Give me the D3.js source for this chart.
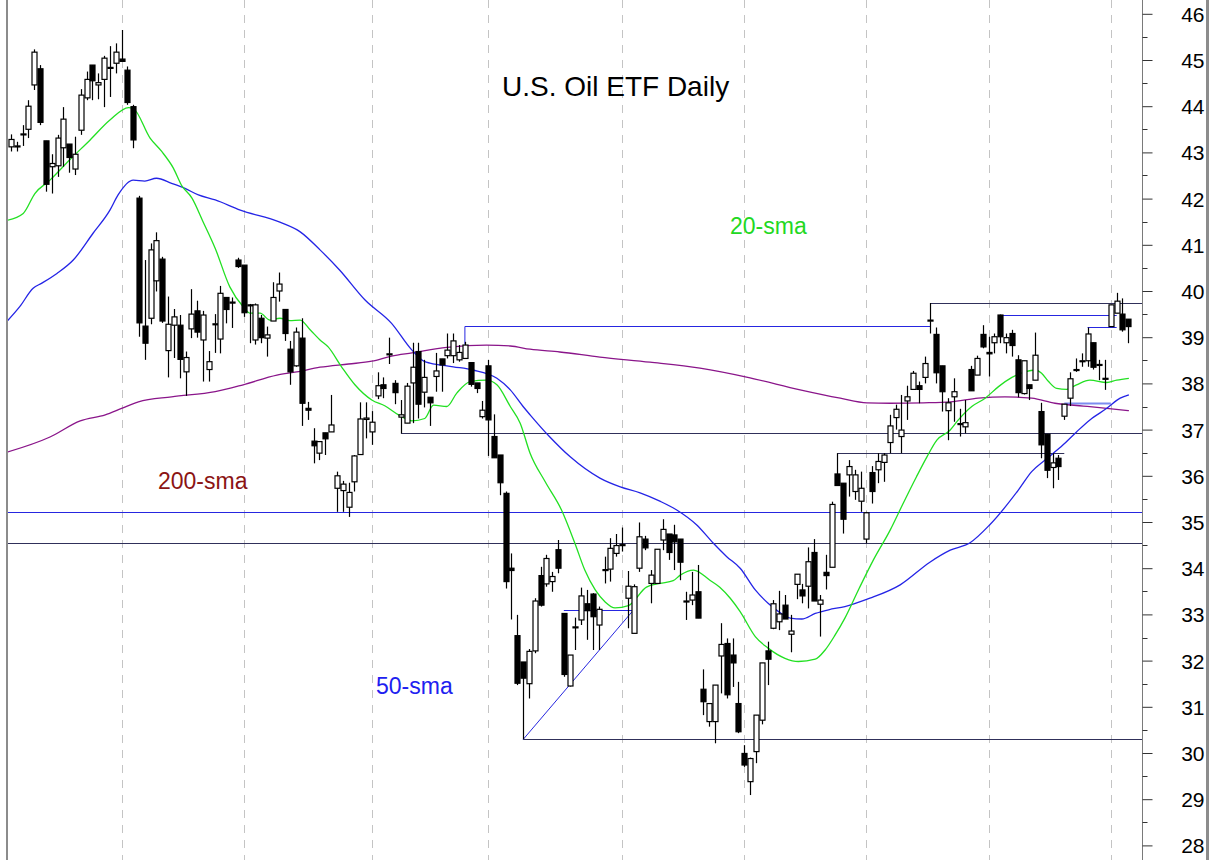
<!DOCTYPE html>
<html>
<head>
<meta charset="utf-8">
<script src="https://cdn.jsdelivr.net/npm/d3@7"></script>
<style>
body { margin: 0; background: #fff; }
svg { display: block; font-family: "Liberation Sans", Arial, sans-serif; }
</style>
</head>
<body>
<div class="chart"></div>
<script>
// daily bars, bar 0 is the first one on the left
var opens = [43.12,43.12,43.38,43.50,44.46,44.81,43.25,42.69,42.71,43.10,43.18,42.64,43.48,44.18,44.89,44.46,44.58,44.82,44.93,45.02,
  44.78,43.99,42.01,39.24,39.41,40.22,40.69,38.71,39.26,39.26,38.25,39.18,39.57,38.94,38.30,39.27,38.96,39.86,39.76,40.67,
  40.56,39.70,38.94,39.41,38.98,39.35,40.00,39.60,38.74,38.38,38.98,37.46,36.75,36.49,36.93,36.95,35.73,35.68,35.32,35.87,
  36.46,37.22,36.95,37.73,37.97,38.62,38.00,37.27,37.14,38.01,38.69,37.81,37.70,38.15,38.53,38.60,38.60,38.51,38.54,38.45,
  38.01,37.28,38.38,36.85,36.45,35.62,34.00,32.54,31.97,31.50,32.21,33.84,33.66,33.71,34.40,33.02,31.45,32.71,32.88,33.23,
  33.44,32.77,33.95,33.98,34.32,34.49,33.35,32.59,34.00,34.63,33.67,33.67,34.61,34.74,34.72,34.63,33.27,33.31,33.49,31.38,
  30.68,30.68,32.10,32.37,32.12,31.07,29.99,29.38,30.03,30.71,32.21,32.70,32.84,33.20,32.57,33.65,33.53,33.61,34.34,33.22,
  33.91,34.02,36.04,35.84,36.02,35.66,35.45,34.63,36.07,36.13,36.29,36.72,37.26,36.85,37.62,37.87,37.95,38.13,39.35,39.06,
  38.38,37.41,37.71,37.11,37.06,38.30,38.18,39.06,38.67,38.88,39.48,38.88,39.08,38.51,37.78,37.97,38.07,37.39,36.90,36.18,
  36.38,37.29,37.68,38.28,38.47,38.49,38.88,38.40,38.10,39.23,39.52,39.50,39.39];
var highs = [43.39,43.23,43.59,44.13,45.23,44.89,43.25,42.96,43.38,43.98,43.18,43.34,44.37,44.75,44.89,44.71,45.09,45.30,45.36,45.65,
  44.86,44.03,42.06,40.67,41.03,41.27,40.74,39.88,39.61,39.48,38.69,40.04,39.79,39.57,38.70,39.50,40.11,39.86,39.86,40.72,
  40.56,39.72,39.73,39.48,39.23,40.19,40.40,39.60,38.92,39.21,39.41,37.60,37.03,36.74,36.93,37.75,36.09,35.89,35.85,36.45,
  37.59,37.59,37.40,38.24,38.13,38.99,38.07,37.64,38.01,38.88,38.88,38.51,37.70,38.66,38.53,39.08,39.08,38.83,38.90,38.45,
  38.01,37.62,38.51,37.33,36.45,35.66,34.32,32.99,31.97,32.25,33.35,34.03,34.29,33.92,34.61,33.02,32.12,32.93,33.58,33.53,
  33.46,33.17,34.25,34.65,34.74,34.88,33.94,33.65,34.99,34.70,33.96,34.41,35.06,34.74,34.94,34.63,33.49,33.92,34.07,31.81,
  31.07,31.47,32.81,32.48,32.48,31.54,30.17,29.90,30.82,31.95,32.41,33.31,33.51,33.42,32.99,33.87,33.66,34.45,34.63,33.42,
  34.29,35.44,36.49,35.84,36.34,36.13,36.09,35.22,36.21,36.49,36.49,37.32,37.54,37.75,37.95,38.27,38.04,38.58,39.74,39.21,
  38.38,37.68,38.11,37.45,37.64,38.38,38.60,39.26,39.01,39.08,39.49,39.08,39.16,38.61,38.49,37.97,39.10,37.58,36.90,36.49,
  36.45,37.55,38.24,38.54,38.65,39.21,38.88,38.51,38.51,39.70,39.96,39.84,39.39];
var lows = [43.02,43.02,43.14,43.31,44.35,43.59,42.15,42.11,42.47,42.69,42.56,42.51,43.38,44.13,44.13,44.15,43.98,44.20,44.71,44.97,
  44.03,43.09,39.01,38.51,39.28,39.99,39.31,38.13,38.55,38.11,37.73,38.98,38.99,38.04,38.04,38.66,38.65,39.30,39.20,40.50,
  39.44,38.87,38.84,38.87,38.58,39.35,39.77,38.92,37.97,38.36,37.08,37.21,36.27,36.34,36.45,36.95,35.22,35.22,35.11,35.66,
  36.46,36.81,36.67,37.66,37.68,38.42,37.55,36.92,37.14,37.14,37.24,37.48,37.08,37.82,37.82,38.54,38.44,38.47,38.54,37.93,
  37.79,37.24,36.43,36.39,35.58,33.56,32.89,31.47,30.30,31.18,32.16,33.17,33.60,33.49,33.89,31.65,31.44,32.23,32.77,32.45,
  32.23,32.23,33.67,33.71,34.25,34.36,32.70,32.59,33.92,34.39,33.24,33.67,34.39,34.18,33.96,33.74,32.88,33.20,32.92,30.82,
  30.57,30.21,31.29,31.18,31.43,30.43,29.70,29.09,29.78,30.62,31.47,32.68,32.66,32.90,32.18,33.33,33.24,33.13,33.29,32.52,
  33.54,34.02,35.79,34.75,35.55,35.48,35.22,34.54,35.40,35.84,35.87,36.49,37.00,36.49,37.21,37.86,37.57,38.00,39.08,38.00,
  37.39,36.77,37.17,36.85,36.92,37.84,38.18,38.76,38.15,38.65,38.87,38.65,38.58,37.70,37.76,37.64,38.07,36.38,35.95,35.73,
  35.91,37.21,37.51,38.25,38.36,38.36,38.30,38.07,37.86,39.23,39.52,39.12,38.87];
var closes = [43.28,43.14,43.40,44.00,45.17,43.65,42.31,42.76,43.31,43.72,42.89,42.96,44.24,44.58,44.55,44.51,45.04,44.84,45.17,44.97,
  44.08,43.27,39.31,38.87,40.89,41.09,39.35,39.28,39.44,38.52,38.56,39.50,39.11,39.48,38.47,39.29,39.95,39.60,39.74,40.53,
  39.53,39.68,39.70,38.99,39.05,39.86,40.15,39.08,38.25,39.11,37.57,37.42,36.65,36.74,36.80,37.10,36.00,35.82,35.64,36.43,
  37.23,37.25,37.16,37.95,37.89,38.64,37.80,37.32,37.94,38.35,37.55,38.13,37.58,38.27,38.40,38.72,38.92,38.67,38.83,37.98,
  37.89,37.42,37.21,36.39,35.85,33.71,33.95,31.51,31.62,32.20,33.29,33.20,34.21,33.82,34.00,31.70,32.12,32.73,33.40,33.08,
  32.95,33.11,33.97,34.43,34.49,34.51,33.61,33.60,34.68,34.44,33.85,34.41,34.84,34.34,34.57,34.13,33.29,33.42,32.92,31.11,
  31.07,31.47,32.35,31.26,31.95,30.46,29.74,29.88,30.82,31.95,32.03,33.23,33.01,32.90,32.64,33.87,33.40,34.14,33.29,33.31,
  33.84,35.38,35.79,35.06,36.20,36.02,35.73,35.20,35.66,36.31,36.45,37.08,37.44,36.99,37.71,38.22,37.87,38.43,39.37,38.23,
  37.82,37.58,37.82,37.13,37.15,37.84,38.54,38.79,38.64,39.01,39.01,38.99,38.82,37.80,38.49,37.89,38.61,36.67,36.12,36.28,
  36.20,37.55,38.10,38.30,38.49,39.07,38.35,38.41,38.11,39.70,39.78,39.16,39.23];

// first bar of each month (dashed grid)
var monthStarts = [19, 40, 62, 82, 105, 126, 147, 168, 189];
var priceTicks = d3.range(28, 47);
var halfTicks = d3.range(28.5, 46, 1);

// moving averages: [bar, price]
var sma20 = [[-1,41.52],[2.1,41.68],[4.1,42.11],[6.7,42.40],[10.1,42.84],[13.6,43.27],[17,43.70],[20.2,43.97],[21,43.95],[23.9,43.31],
  [25.9,43.02],[27.9,42.66],[29.3,42.29],[31.1,42.01],[33,41.50],[35.1,40.92],[37.6,40.09],[39.9,39.66],[41.1,39.52],[42.8,39.52],
  [44.5,39.37],[46.2,39.41],[47.9,39.36],[49.7,39.37],[51.4,39.16],[53.1,38.94],[54.5,38.79],[56.8,38.36],[59.1,37.97],[62,37.64],
  [64.3,37.51],[66.6,37.32],[68.9,37.19],[71.1,37.24],[72.6,37.53],[74.9,37.50],[76.6,37.79],[78.9,38.04],[81.7,38.07],[83.5,37.97],
  [85.8,37.50],[87.5,37.14],[89.2,36.49],[91.8,35.87],[94.6,35.26],[96.9,34.54],[98.6,33.96],[100.4,33.53],[102.1,33.27],[103.8,33.14],
  [106.1,33.19],[109.2,33.59],[111.5,33.67],[113.8,33.73],[115,33.85],[117.3,33.96],[120.1,33.74],[121.8,33.59],[123.6,33.35],[125.3,33.06],
  [127.9,32.52],[130.1,32.27],[133,32.05],[135.3,31.98],[138.2,32.03],[139.9,32.23],[141.6,32.55],[143.3,32.92],[145.7,33.55],[148.2,34.18],
  [151.1,34.83],[153.3,35.40],[155.6,35.98],[157.4,36.41],[159.1,36.77],[161.4,36.99],[162.8,37.21],[165.1,37.50],[167.4,37.68],[169.7,37.93],
  [172,38.13],[174.3,38.25],[176,38.29],[177.1,38.22],[178.3,38.04],[179.7,37.89],[181.4,37.87],[183.1,37.97],[185.4,38.07],[188.3,38.02],
  [190,38.07],[192.1,38.11]];
var sma50 = [[-1,39.30],[1.5,39.66],[3.8,40.06],[5.3,40.17],[7.9,40.38],[10.7,40.67],[14.1,41.25],[17,41.75],[18.4,42.08],[21,42.40],
  [23,42.38],[25,42.44],[27.6,42.33],[29.9,42.22],[32.2,42.08],[35.1,41.97],[39.4,41.75],[46.2,41.49],[49.7,41.28],[53.1,40.89],
  [56.5,40.45],[60.8,39.81],[65.4,39.30],[68.9,38.72],[71.1,38.47],[72,38.44],[76,38.36],[79.4,38.29],[83.5,38.11],[85.8,37.86],
  [88,37.50],[89.2,37.32],[92.6,36.84],[96.1,36.41],[101.2,35.95],[104.7,35.76],[108.1,35.63],[111.5,35.45],[114.4,35.26],[117.8,34.94],
  [120.7,34.54],[123,34.25],[125.3,34.00],[127.9,33.53],[130.1,33.24],[131.9,33.06],[133.9,32.92],[135.9,32.90],[138.2,33.02],[140.5,33.10],
  [143.3,33.17],[147.6,33.35],[152.8,33.64],[157.9,34.13],[161.4,34.39],[164.8,34.55],[168.2,34.94],[173.1,35.69],[175.4,36.09],[177.7,36.34],
  [180.8,36.67],[183.1,36.95],[185.4,37.21],[188.3,37.46],[190.6,37.68],[192.1,37.75]];
var sma200 = [[-1,36.50],[6.7,36.84],[11.9,37.19],[16.2,37.32],[19,37.46],[21.9,37.60],[27.6,37.71],[35.1,37.82],[39.9,37.97],[45.7,38.18],
  [49.1,38.25],[53.1,38.35],[58,38.42],[62,38.48],[65.4,38.59],[68.9,38.66],[74.9,38.78],[81.7,38.83],[85.8,38.81],[89.2,38.74],
  [94.3,38.68],[101.2,38.57],[109.8,38.46],[118.4,38.33],[127,38.12],[135.6,37.86],[142.5,37.68],[147.1,37.58],[151.1,37.57],[156.8,37.58],
  [161.4,37.60],[166.2,37.68],[170.8,37.71],[175.4,37.68],[179.4,37.57],[184.3,37.51],[188.3,37.46],[192.1,37.41]];

// hand drawn levels: [bar, price] points, null bar = chart edge
var blueLevels = [
  [[null,35.22],[null,35.22]],
  [[78,38.85],[78,39.25],[158,39.25]],
  [[170,39.48],[190,39.48]],
  [[185,39.21],[190,39.21]],
  [[88,30.30],[107.2,33.14]],
  [[95,33.09],[107.2,33.09]]
];
var darkLevels = [
  [[null,34.55],[null,34.55]],
  [[158,39.74],[null,39.74]],
  [[67,36.92],[null,36.92]],
  [[142,36.49],[181,36.49]],
  [[88,30.30],[null,30.30]]
];
var paleLevels = [
  [[181,37.58],[189,37.58]]
];

var width = 1209, height = 860;
var left = 7, axisX = 1142;

var x = d3.scaleLinear().domain([0, opens.length - 1]).range([11, 1128.3]);
var y = d3.scaleLinear().domain([28, 46]).range([845.4, 13.8]);

var svg = d3.select(".chart").append("svg")
    .attr("width", width)
    .attr("height", height);

svg.append("rect").attr("width", width).attr("height", height).attr("fill", "#fff");

svg.append("clipPath").attr("id", "plot")
    .append("rect").attr("x", left + 1).attr("y", 0)
    .attr("width", axisX - left - 1).attr("height", height);

// month grid
svg.selectAll(".grid")
    .data(monthStarts)
    .enter().append("line")
    .attr("class", "grid")
    .attr("x1", function (d) { return Math.round(x(d)) + 0.5; })
    .attr("x2", function (d) { return Math.round(x(d)) + 0.5; })
    .attr("y1", 0)
    .attr("y2", height)
    .attr("stroke", "#c4c4c4")
    .attr("stroke-dasharray", "8,7");

var plot = svg.append("g").attr("clip-path", "url(#plot)");

function levelPath(pts) {
    return d3.line()
        .x(function (d, i) {
            if (d[0] === null) return i === 0 ? left : axisX;
            return x(d[0]);
        })
        .y(function (d) { return Math.round(y(d[1])) + 0.5; })(pts);
}

function drawLevels(list, color, w) {
    plot.selectAll(null)
        .data(list)
        .enter().append("path")
        .attr("d", levelPath)
        .attr("fill", "none")
        .attr("stroke", color)
        .attr("stroke-width", w);
}

drawLevels(darkLevels, "#30305a", 1);
drawLevels(blueLevels, "#2626e0", 1);
drawLevels(paleLevels, "#7c8cf0", 2);

var maLine = d3.line()
    .x(function (d) { return x(d[0]); })
    .y(function (d) { return y(d[1]); })
    .curve(d3.curveMonotoneX);

plot.append("path").attr("d", maLine(sma200))
    .attr("fill", "none").attr("stroke", "#8a158a").attr("stroke-width", 1.3);
plot.append("path").attr("d", maLine(sma50))
    .attr("fill", "none").attr("stroke", "#2424e6").attr("stroke-width", 1.3);
plot.append("path").attr("d", maLine(sma20))
    .attr("fill", "none").attr("stroke", "#22e022").attr("stroke-width", 1.3);

// candles
var bars = d3.range(opens.length).map(function (i) {
    return { i: i, o: opens[i], h: highs[i], l: lows[i], c: closes[i] };
});

var candle = plot.selectAll(".bar")
    .data(bars)
    .enter().append("g")
    .attr("class", "bar");

candle.append("line")
    .attr("x1", function (d) { return Math.round(x(d.i)) + 0.5; })
    .attr("x2", function (d) { return Math.round(x(d.i)) + 0.5; })
    .attr("y1", function (d) { return y(d.h); })
    .attr("y2", function (d) { return y(d.l); })
    .attr("stroke", "#000")
    .attr("stroke-width", 1.2);

candle.append("rect")
    .attr("x", function (d) { return Math.round(x(d.i)) - 2; })
    .attr("width", 5)
    .attr("y", function (d) { return y(Math.max(d.o, d.c)); })
    .attr("height", function (d) { return Math.max(1, Math.abs(y(d.o) - y(d.c))); })
    .attr("fill", function (d) { return d.c < d.o ? "#000" : "#fff"; })
    .attr("stroke", "#000")
    .attr("stroke-width", 1.2);

// frame
svg.append("line").attr("x1", left).attr("x2", left).attr("y1", 0).attr("y2", height)
    .attr("stroke", "#8c8c8c").attr("stroke-width", 2);
svg.append("line").attr("x1", 1207.5).attr("x2", 1207.5).attr("y1", 0).attr("y2", height)
    .attr("stroke", "#8c8c8c").attr("stroke-width", 3);

// price axis on the right
svg.append("line").attr("x1", axisX + 0.5).attr("x2", axisX + 0.5).attr("y1", 0).attr("y2", height)
    .attr("stroke", "#7a7a7a");

var axis = svg.append("g")
    .attr("transform", "translate(" + (axisX + 0.5) + ",0)")
    .call(d3.axisRight(y).tickValues(priceTicks).tickSize(10).tickSizeOuter(0).tickPadding(0));
axis.select(".domain").remove();
axis.selectAll(".tick line").attr("stroke", "#333");
axis.selectAll(".tick text")
    .attr("x", 62)
    .attr("dy", "0.36em")
    .attr("text-anchor", "end")
    .attr("font-size", "21px")
    .style("font-family", "Liberation Sans, Arial, sans-serif")
    .attr("fill", "#000");

svg.append("g")
    .attr("transform", "translate(" + (axisX + 0.5) + ",0)")
    .selectAll("line")
    .data(halfTicks)
    .enter().append("line")
    .attr("x1", 0).attr("x2", 5)
    .attr("y1", function (d) { return Math.round(y(d)) + 0.5; })
    .attr("y2", function (d) { return Math.round(y(d)) + 0.5; })
    .attr("stroke", "#333");

// labels
svg.append("text").attr("x", 502).attr("y", 96)
    .attr("font-size", "28px").attr("fill", "#000")
    .text("U.S. Oil ETF Daily");
svg.append("text").attr("x", 730).attr("y", 234)
    .attr("font-size", "23px").attr("fill", "#22d822")
    .text("20-sma");
svg.append("text").attr("x", 158).attr("y", 489)
    .attr("font-size", "23px").attr("fill", "#8b1414")
    .text("200-sma");
svg.append("text").attr("x", 376).attr("y", 694)
    .attr("font-size", "23px").attr("fill", "#2020f0")
    .text("50-sma");
</script>
</body>
</html>
